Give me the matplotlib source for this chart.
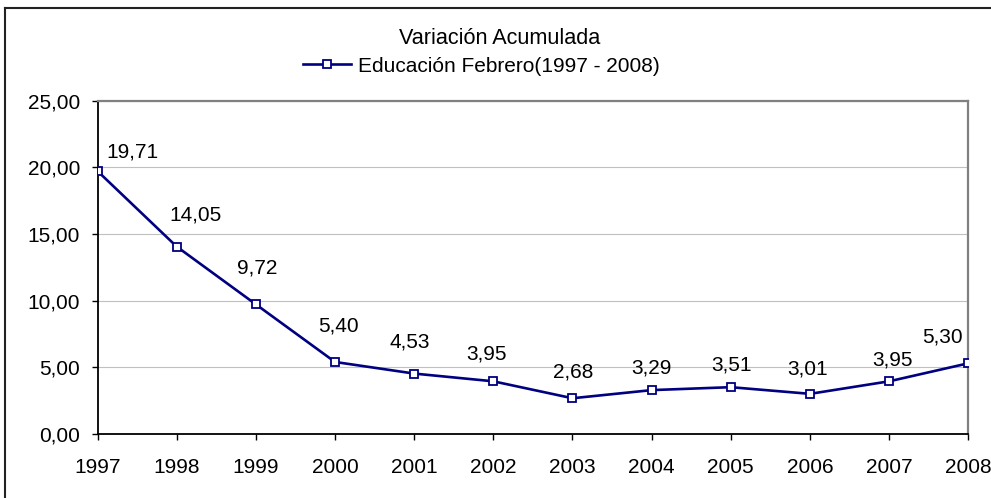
import matplotlib.pyplot as plt
import matplotlib.ticker as ticker
from matplotlib.lines import Line2D

plt.rcParams['font.family'] = ['Liberation Sans', 'DejaVu Sans']

# data
years = ['1997', '1998', '1999', '2000', '2001', '2002',
         '2003', '2004', '2005', '2006', '2007', '2008']
values = [19.71, 14.05, 9.72, 5.40, 4.53, 3.95, 2.68, 3.29, 3.51, 3.01, 3.95, 5.30]
title = 'Variación Acumulada'
series_name = 'Educación Febrero(1997 - 2008)'

# label offsets in pixels (dx, dy) relative to each point
label_offsets = [(34.5, 14), (19, 26), (1.5, 31), (3, 30), (-4, 26), (-6.5, 22),
                 (1, 21), (-0.5, 17), (0.5, 17), (-2, 19), (3.5, 16), (-26, 21)]

W, H, DPI = 991, 498, 100
px = 72.0 / DPI  # points per pixel
navy = '#000080'

fig = plt.figure(figsize=(W / DPI, H / DPI), dpi=DPI)
ax = fig.add_axes([97.5 / W, 1 - 434 / H, (968.3 - 97.5) / W, (434 - 100.5) / H])

x = list(range(len(years)))
line, = ax.plot(x, values, color=navy, linewidth=1.9,
                marker='s', markersize=6, markerfacecolor='white',
                markeredgecolor=navy, markeredgewidth=1.3, label=series_name, zorder=3)

for xi, v, (dx, dy) in zip(x, values, label_offsets):
    ax.annotate(f'{v:.2f}'.replace('.', ','), (xi, v), xytext=(dx * px, dy * px),
                textcoords='offset points', ha='center', va='baseline',
                fontsize=15, color='black', annotation_clip=False)

ax.set_xlim(0, len(years) - 1)
ax.set_ylim(0, 25)
ax.set_xticks(x)
ax.set_xticklabels(years)
ax.yaxis.set_major_locator(ticker.MultipleLocator(5))
ax.yaxis.set_major_formatter(ticker.FuncFormatter(lambda v, pos: f'{v:.2f}'.replace('.', ',')))

ax.grid(axis='y', color='#C0C0C0', linewidth=0.8)
ax.set_axisbelow(True)
for s in ['left', 'bottom']:
    ax.spines[s].set_color('black')
    ax.spines[s].set_linewidth(1.3)
for s in ['top', 'right']:
    ax.spines[s].set_color('#808080')
    ax.spines[s].set_linewidth(1.6)
ax.tick_params(axis='both', direction='out', length=4.5, width=1, color='black',
               labelsize=15)
ax.tick_params(axis='x', pad=13)
ax.tick_params(axis='y', pad=8)

fig.text(500 / W, 1 - 38 / H, title, ha='center', va='center', fontsize=15.6)
fig.legend(handles=[line], loc='center', bbox_to_anchor=(481 / W, 1 - 66 / H),
           frameon=False, fontsize=15, handlelength=2.35, handletextpad=0.3,
           borderpad=0, borderaxespad=0)

# outer chart border (left and top edges visible)
fig.add_artist(Line2D([4.5 / W, 4.5 / W], [0, 1 - 8.5 / H], transform=fig.transFigure,
                      color='#222222', linewidth=1.5))
fig.add_artist(Line2D([4.5 / W, 1], [1 - 8.5 / H, 1 - 8.5 / H], transform=fig.transFigure,
                      color='#222222', linewidth=1.5))

fig.savefig('out.png', dpi=DPI)
